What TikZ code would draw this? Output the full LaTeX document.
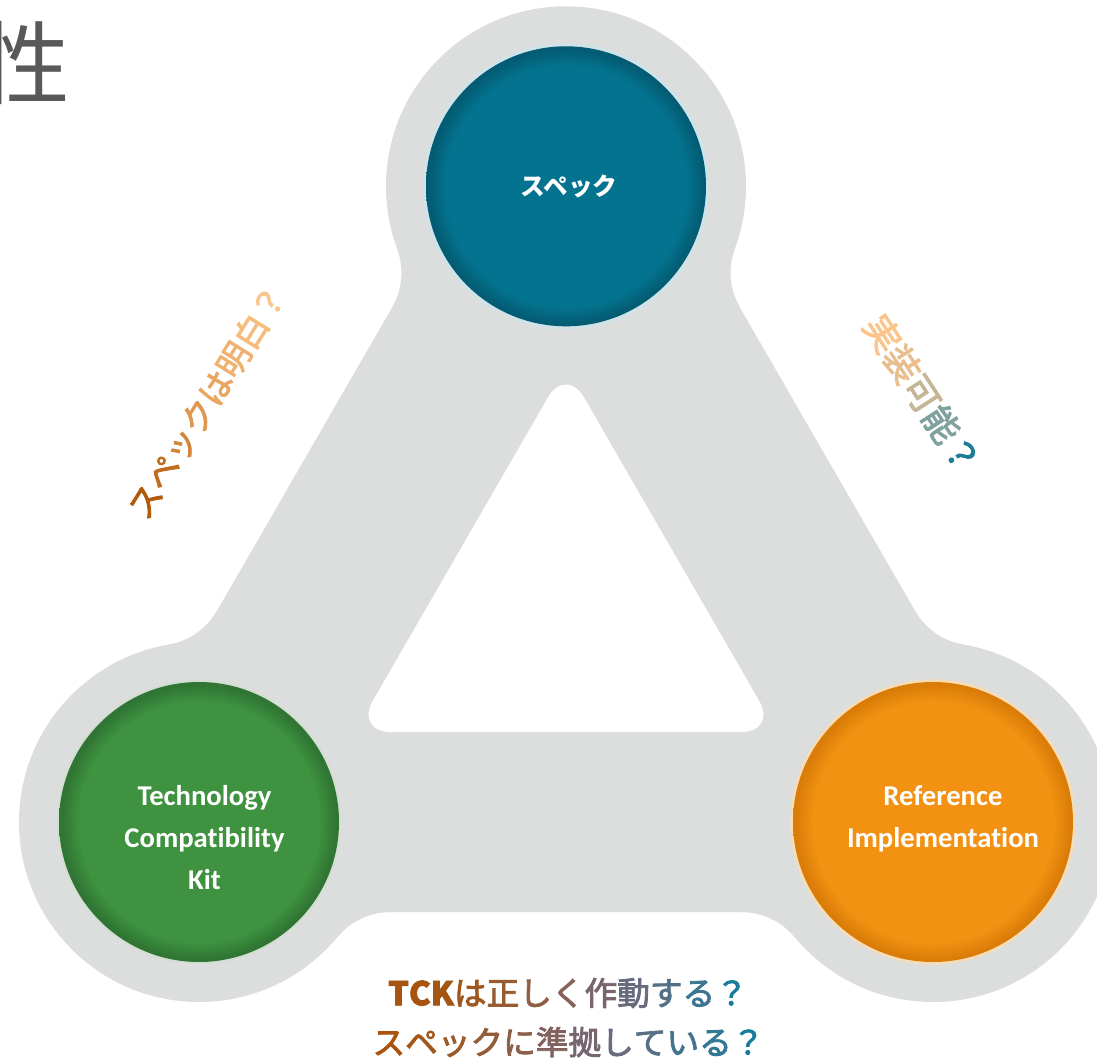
\documentclass[tikz,border=0pt]{standalone}
\usepackage{fontspec}
\setmainfont{Carlito}[Ligatures=NoCommon]
\newfontfamily\jp{Noto Sans CJK JP}
\newfontfamily\jpm{Noto Sans CJK JP}[FakeBold=2.5]
\usetikzlibrary{calc}
\definecolor{bandgray}{HTML}{DCDEDD}
\definecolor{tealc}{HTML}{04738F}
\definecolor{tealdark}{HTML}{035C73}
\definecolor{tealhalo}{HTML}{CFE3E8}
\definecolor{greenc}{HTML}{3E9240}
\definecolor{greendark}{HTML}{307533}
\definecolor{greenhalo}{HTML}{D3DED3}
\definecolor{orangec}{HTML}{F29112}
\definecolor{orangedark}{HTML}{DA7D08}
\definecolor{orangehalo}{HTML}{F6DDB8}
\definecolor{titlegray}{HTML}{595959}
\pgfdeclareradialshading{tealball}{\pgfpoint{0bp}{0bp}}{color(0bp)=(tealc); color(21.5bp)=(tealc); color(24.5bp)=(tealdark); color(25bp)=(tealdark); color(50bp)=(tealdark)}
\pgfdeclareradialshading{greenball}{\pgfpoint{0bp}{0bp}}{color(0bp)=(greenc); color(21.5bp)=(greenc); color(24.5bp)=(greendark); color(25bp)=(greendark); color(50bp)=(greendark)}
\pgfdeclareradialshading{orangeball}{\pgfpoint{0bp}{0bp}}{color(0bp)=(orangec); color(21.5bp)=(orangec); color(24.5bp)=(orangedark); color(25bp)=(orangedark); color(50bp)=(orangedark)}
% concave fillet between a disk (centre #1,#2) and a band side (direction #3,#4, outer normal #5,#6)
\newcommand\filletpath[6]{%
  \fill[bandgray] (#1,#2)
   -- ({#1+138.3*(#3)+115.2*(#5)},{#2+138.3*(#4)+115.2*(#6)})
   .. controls ({#1+151.6*(#3)+99.2*(#5)},{#2+151.6*(#4)+99.2*(#6)})
   and ({#1+171.3*(#3)+90*(#5)},{#2+171.3*(#4)+90*(#6)})
   .. ({#1+192.1*(#3)+90*(#5)},{#2+192.1*(#4)+90*(#6)})
   -- ({#1+192.1*(#3)},{#2+192.1*(#4)}) -- cycle;}
\newcommand\gc[2]{\textcolor[RGB]{#1}{#2}}
\begin{document}
\begin{tikzpicture}[x=0.75pt,y=-0.75pt,
  ball/.style={circle, minimum size=210pt, inner sep=0pt, shade},
  balltext/.style={text=white, inner sep=0pt, align=center,
     font=\bfseries\fontsize{21.5}{31.5}\selectfont},
  jpball/.style={text=white, inner sep=0pt, font=\jp\bfseries\fontsize{18.5}{22}\selectfont},
  sidelbl/.style={inner sep=0pt, font=\jpm\fontsize{25}{30}\selectfont},
  bottomlbl/.style={inner sep=0pt, font=\jpm\fontsize{24.5}{30}\selectfont}]
\useasboundingbox (0,0) rectangle (1097,1060);
\begin{scope}
\clip (0,0) rectangle (1097,1060);
\fill[white] (0,0) rectangle (1097,1060);
% title fragment
\node[inner sep=0pt, text=titlegray, font=\jp\fontsize{68}{80}\selectfont] (title) at (25,63) {性};
% centres
\coordinate (cT) at (566,186.3);
\coordinate (cL) at (199,822);
\coordinate (cR) at (933,822);
% grey frame
\fill[bandgray] (cT) -- (cL) -- (cR) -- cycle;
\draw[bandgray, line width=135pt, line join=round] (cT) -- (cL) -- (cR) -- cycle;
\fill[bandgray] (cT) circle[radius=135pt];
\fill[bandgray] (cL) circle[radius=135pt];
\fill[bandgray] (cR) circle[radius=135pt];
\filletpath{566}{186.3}{-0.5}{0.866}{-0.866}{-0.5}
\filletpath{566}{186.3}{0.5}{0.866}{0.866}{-0.5}
\filletpath{199}{822}{0.5}{-0.866}{-0.866}{-0.5}
\filletpath{199}{822}{1}{0}{0}{1}
\filletpath{933}{822}{-0.5}{-0.866}{0.866}{-0.5}
\filletpath{933}{822}{-1}{0}{0}{1}
\fill[white, rounded corners=27pt] (566,366.3) -- (354.85,732) -- (777.15,732) -- cycle;
% balls
\fill[tealhalo] (cT) circle[radius=107.5pt];
\fill[greenhalo] (cL) circle[radius=106.5pt];
\fill[orangehalo] (cR) circle[radius=107pt];
\node[ball, shading=tealball] (spec) at (cT) {};
\node[ball, shading=greenball] (tck) at (cL) {};
\node[ball, shading=orangeball] (ri) at (cR) {};
\node[jpball] (spectext) at (569,186) {スペック};
\node[balltext] (tcktext) at (204.5,838) {Technology\\Compatibility\\Kit};
\node[balltext] (ritext) at (943,819) {Reference\\Implementation};
% side labels
\node[sidelbl, rotate=58] (leftq) at (207,402) {\gc{178,90,12}{ス}\gc{192,108,30}{ペ}\gc{210,134,58}{ッ}\gc{222,152,80}{ク}\gc{232,166,96}{は}\gc{240,178,112}{明}\gc{246,188,124}{白}\gc{250,198,140}{？}};
\node[sidelbl, rotate=-57, font=\jpm\fontsize{27}{30}\selectfont] (rightq) at (922,394) {\gc{250,196,138}{実}\gc{232,190,142}{装}\gc{196,182,150}{可}\gc{128,162,158}{能}\gc{28,126,150}{？}};
% bottom labels
\node[bottomlbl] (bq1) at (568,993) {\bfseries\gc{166,84,16}{T}\gc{166,84,16}{C}\gc{163,85,20}{K}\mdseries\gc{158,88,30}{は}\gc{150,92,50}{正}\gc{142,94,70}{し}\gc{135,97,90}{く}\gc{122,101,110}{作}\gc{104,106,125}{動}\gc{84,112,135}{す}\gc{60,118,145}{る}\gc{25,124,155}{？}};
\node[bottomlbl] (bq2) at (568.5,1042) {\gc{168,84,14}{ス}\gc{162,87,25}{ペ}\gc{155,90,42}{ッ}\gc{148,93,58}{ク}\gc{140,95,75}{に}\gc{130,98,95}{準}\gc{118,102,112}{拠}\gc{104,106,125}{し}\gc{88,111,133}{て}\gc{70,115,140}{い}\gc{50,120,148}{る}\gc{22,124,155}{？}};
\end{scope}
\end{tikzpicture}
\end{document}
